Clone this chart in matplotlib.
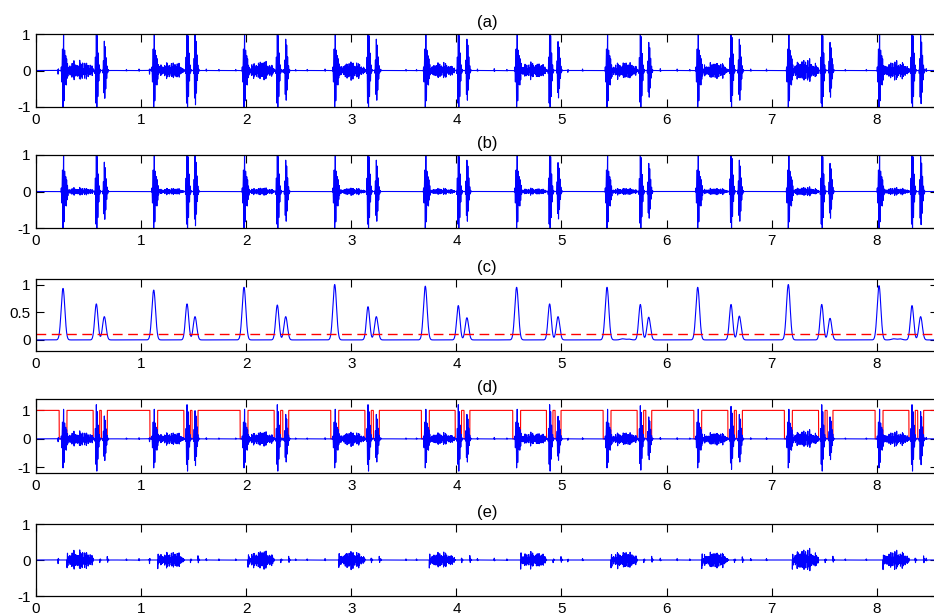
import numpy as np
import matplotlib
matplotlib.use("Agg")
import matplotlib.pyplot as plt

plt.rcParams['font.family'] = ['Liberation Sans', 'DejaVu Sans']

# ---- heart-cycle events (seconds) ----
s1_times = [0.257, 1.120, 1.979, 2.842, 3.704, 4.573, 5.433, 6.296, 7.158, 8.021]
s2a_times = [0.574, 1.437, 2.296, 3.159, 4.018, 4.887, 5.750, 6.613, 7.476, 8.335]
s2b_times = [0.650, 1.513, 2.376, 3.238, 4.100, 4.967, 5.830, 6.692, 7.555, 8.417]

# peak amplitudes of the recorded sounds (negative lobe of S1 is the largest)
s1_amp = [-1.00, -1.00, -1.00, -1.00, -1.00, -1.00, -1.00, -1.00, -1.00, -1.00]
s2a_amp = [1.00, 1.00, 1.00, 1.00, 1.00, 1.00, 0.97, 0.95, 1.00, 1.00]
s2b_amp = [0.73, 0.90, 0.78, 0.78, 0.78, 0.72, 0.70, 0.78, 0.70, 0.87]
murmur_amp = [0.30, 0.25, 0.28, 0.27, 0.23, 0.25, 0.26, 0.25, 0.33, 0.28]

# normalised envelope peaks
env_s1 = [0.93, 0.90, 0.95, 1.00, 0.97, 0.95, 0.95, 0.95, 1.00, 0.98]
env_s2a = [0.65, 0.65, 0.63, 0.60, 0.62, 0.65, 0.64, 0.64, 0.64, 0.62]
env_s2b = [0.42, 0.42, 0.42, 0.42, 0.40, 0.42, 0.41, 0.43, 0.39, 0.42]
env_minor_t = [5.58, 5.64, 8.16, 8.22]
env_minor_h = [0.02, 0.015, 0.02, 0.02]
threshold = 0.1

# small diastolic artefacts
blip_t = [0.21, 0.86, 0.98, 1.08, 1.62, 1.74, 1.90, 2.35, 2.47, 2.58, 2.75,
          3.28, 3.52, 3.62, 4.20, 4.36, 4.48, 5.06, 5.20, 5.94, 6.10, 6.22,
          6.80, 6.95, 7.58, 7.70, 7.90, 8.12, 8.47]
blip_a = [-0.10, 0.03, 0.04, -0.10, 0.04, 0.03, 0.03, -0.05, 0.03, 0.03, 0.04,
          0.04, 0.03, 0.03, 0.04, 0.05, 0.03, -0.05, 0.04, 0.05, 0.04, 0.03,
          0.04, 0.04, 0.12, 0.03, 0.03, 0.04, 0.05]

x_ticks = [0, 1, 2, 3, 4, 5, 6, 7, 8]
panel_titles = ['(a)', '(b)', '(c)', '(d)', '(e)']

fs = 4000.0
t = np.arange(0, 8.6, 1 / fs)


def burst(t0, amp, sl, sr, freq):
    dt = t - t0
    sig = np.where(dt < 0, sl, sr)
    env = np.exp(-0.5 * (dt / sig) ** 2)
    return amp * env * np.cos(2 * np.pi * freq * dt)


def murmur_segment(start, stop, amp):
    u = np.clip((t - start) / (stop - start), 0, 1)
    win = np.sin(np.pi * u) ** 0.5
    tone = (0.50 * np.sin(2 * np.pi * 181 * t) + 0.35 * np.sin(2 * np.pi * 233 * t + 1.0)
            + 0.30 * np.sin(2 * np.pi * 291 * t + 2.0))
    wobble = (0.65 + 0.2 * np.sin(2 * np.pi * 17 * t + 0.5)
              + 0.15 * np.sin(2 * np.pi * 41 * t + 1.3))
    return amp * win * wobble * tone / 0.9


sounds = np.zeros_like(t)
murmur = np.zeros_like(t)
for k in range(len(s1_times)):
    sounds += burst(s1_times[k] - 0.009, -0.4 * s1_amp[k], 0.004, 0.006, 110)
    sounds += burst(s1_times[k], 1.15 * s1_amp[k], 0.007, 0.013, 95)
    sounds += burst(s1_times[k] + 0.030, 0.35 * s1_amp[k], 0.005, 0.010, 120)
    sounds += burst(s2a_times[k], 1.2 * s2a_amp[k], 0.006, 0.014, 105)
    sounds += burst(s2b_times[k], 1.1 * s2b_amp[k], 0.006, 0.014, 110)
    murmur += murmur_segment(s1_times[k] + 0.035, s2a_times[k] - 0.025, murmur_amp[k])

blips = np.zeros_like(t)
for tb, ab in zip(blip_t, blip_a):
    blips += burst(tb, ab, 0.002, 0.003, 120)

sig_a = sounds + murmur + blips
sig_b = sounds + 0.4 * murmur

env = np.zeros_like(t)
for k in range(len(s1_times)):
    env += env_s1[k] * np.exp(-0.5 * ((t - s1_times[k]) / 0.0175) ** 2)
    env += env_s2a[k] * np.exp(-0.5 * ((t - s2a_times[k]) / 0.0157) ** 2)
    env += env_s2b[k] * np.exp(-0.5 * ((t - s2b_times[k]) / 0.0165) ** 2)
for tm, hm in zip(env_minor_t, env_minor_h):
    env += hm * np.exp(-0.5 * ((t - tm) / 0.02) ** 2)

gate = (env < threshold).astype(float)
sig_e = sig_a * gate

W, H = 934, 616
fig = plt.figure(figsize=(W / 100, H / 100), dpi=100)
bounds = [(34, 107), (155, 228), (279, 351), (399, 473), (524, 596)]
axes = []
for (top, bot) in bounds:
    ax = fig.add_axes([36 / W, 1 - bot / H, 902 / W, (bot - top) / H])
    axes.append(ax)

blue = '#0000ff'
red = '#ff0000'
lw = 0.8

axes[0].plot(t, sig_a, color=blue, lw=lw)
axes[1].plot(t, sig_b, color=blue, lw=lw)
axes[2].plot(t, env, color=blue, lw=lw)
axes[2].axhline(threshold, color=red, lw=1.0, ls=(0, (7, 4)))
axes[3].plot(t, gate, color=red, lw=lw)
axes[3].plot(t, sig_a, color=blue, lw=lw)
axes[4].plot(t, sig_e, color=blue, lw=lw)

ylims = [(-1, 1), (-1, 1), (-0.2, 1.1), (-1.2, 1.4), (-1, 1)]
yticks = [[-1, 0, 1], [-1, 0, 1], [0, 0.5, 1], [-1, 0, 1], [-1, 0, 1]]
for ax, yl, yt, ttl in zip(axes, ylims, yticks, panel_titles):
    ax.set_xlim(0, 902 / 105.1)
    ax.set_ylim(*yl)
    ax.set_xticks(x_ticks)
    ax.set_yticks(yt)
    ax.set_yticklabels(['%g' % v for v in yt])
    ax.tick_params(direction='in', top=True, right=True, length=6, width=0.8,
                   labelsize=11, pad=4)
    for sp in ax.spines.values():
        sp.set_linewidth(0.9)
    ax.set_title(ttl, fontsize=12, pad=5)

fig.savefig('out.png', dpi=100)
